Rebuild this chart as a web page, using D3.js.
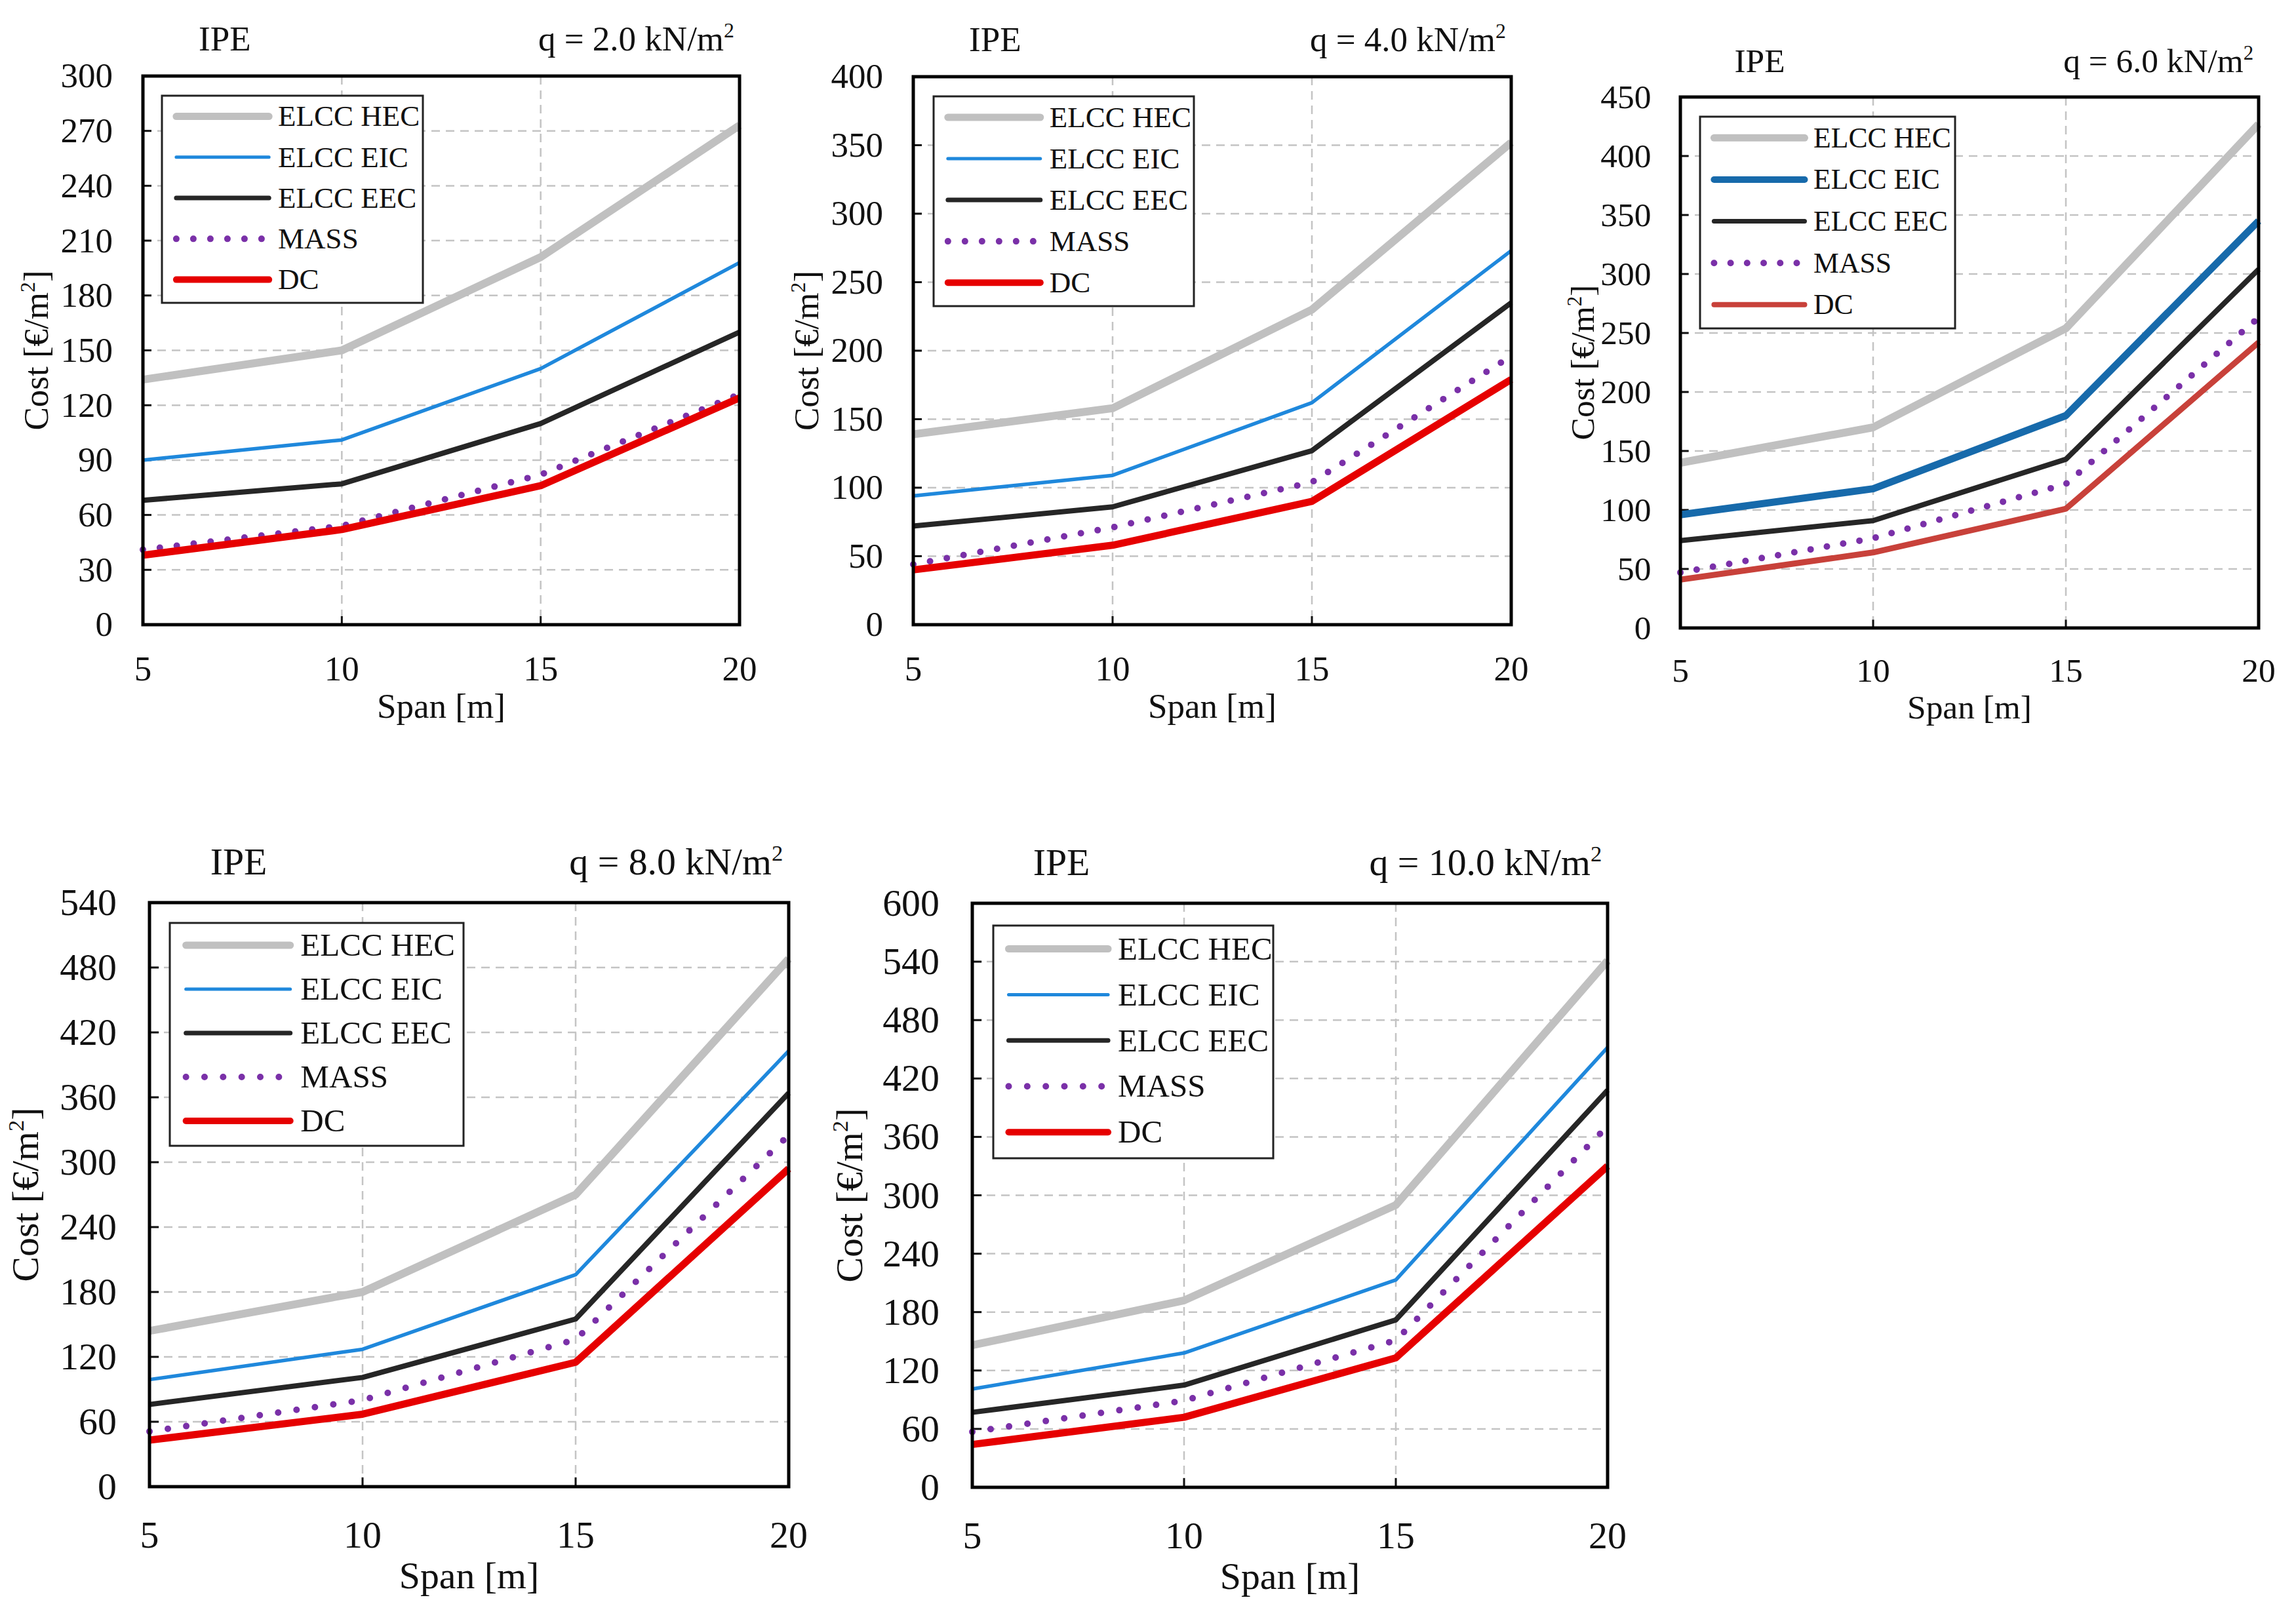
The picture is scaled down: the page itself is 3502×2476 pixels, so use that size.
<!DOCTYPE html>
<html>
<head>
<meta charset="utf-8">
<script src="https://cdn.jsdelivr.net/npm/d3@7"></script>
<style>
  body { margin: 0; background: #fff; }
  svg { display: block; background: #fff; }
  text { font-family: "Liberation Serif", "Times New Roman", serif; fill: #111; }
</style>
</head>
<body>
<svg id="chart"></svg>
<script>
// ---- data ----
const spans = [5, 10, 15, 20];
const loads = ["2.0", "4.0", "6.0", "8.0", "10.0"];
const yMax = [300, 400, 450, 540, 600];
const yStep = [30, 50, 50, 60, 60];
const seriesNames = ["ELCC HEC", "ELCC EIC", "ELCC EEC", "MASS", "DC"];

// one row per panel (q = 2, 4, 6, 8, 10 kN/m2), values at spans 5/10/15/20
const elccHEC = [
  [134, 150, 201, 273],
  [139, 158, 230, 352],
  [140, 170, 254, 427],
  [144, 180, 270, 488],
  [146, 192, 290, 541]
];
const elccEIC = [
  [90, 101, 140, 198],
  [94, 109, 162, 273],
  [96, 118, 180, 345],
  [99, 127, 196, 403],
  [101, 138, 213, 452]
];
const elccEEC = [
  [68, 77, 110, 160],
  [72, 86, 127, 235],
  [74, 91, 143, 304],
  [76, 101, 155, 364],
  [77, 105, 172, 408]
];
const mass = [
  [41, 54, 82, 126],
  [44, 71, 104, 196],
  [47, 76, 122, 263],
  [51, 80, 136, 325],
  [57, 89, 151, 371]
];
const dc = [
  [38, 52, 76, 124],
  [40, 58, 90, 179],
  [41, 64, 101, 242],
  [43, 67, 115, 294],
  [44, 72, 133, 330]
];
const allSeries = [elccHEC, elccEIC, elccEEC, mass, dc];

// ---- layout & styles ----
const W = 3502, H = 2476;
const panels = [
  { x: 218,  y: 116,  w: 910, h: 837, k: 1.0,  leg: [247, 146, 398, 316],  tdx: 145 },
  { x: 1393, y: 117,  w: 912, h: 836, k: 1.0,  leg: [1424, 147, 397, 320], tdx: 145 },
  { x: 2563, y: 148,  w: 882, h: 810, k: 0.97, leg: [2593, 178, 389, 323], tdx: 136 },
  { x: 228,  y: 1377, w: 975, h: 891, k: 1.09, leg: [259, 1408, 448, 340], tdx: 156 },
  { x: 1483, y: 1378, w: 969, h: 891, k: 1.09, leg: [1515, 1412, 427, 355], tdx: 154 }
];
const baseStyles = [
  { color: "#c0c0c0", width: 12 },
  { color: "#1f88dc", width: 5.5 },
  { color: "#262626", width: 8 },
  { color: "#7a30a8", width: 10, dots: true },
  { color: "#e60000", width: 11 }
];
// the 6.0 kN/m2 panel uses different EIC / DC styling
const panel3Styles = { 1: { color: "#176aab", width: 11 }, 4: { color: "#c8413a", width: 9 } };

const svg = d3.select("#chart").attr("width", W).attr("height", H)
  .attr("viewBox", [0, 0, W, H]);

function withSup(sel, before, sup, after, F) {
  sel.append("tspan").text(before);
  sel.append("tspan").attr("dy", -0.38 * F).attr("font-size", 0.6 * F).text(sup);
  if (after) sel.append("tspan").attr("dy", 0.38 * F).text(after);
}

panels.forEach((p, i) => {
  const k = p.k;
  const F = 53 * k;
  const g = svg.append("g");

  const x = d3.scaleLinear().domain([5, 20]).range([p.x, p.x + p.w]);
  const y = d3.scaleLinear().domain([0, yMax[i]]).range([p.y + p.h, p.y]);
  const yTicks = d3.range(0, yMax[i] + 1, yStep[i]);

  // grid
  g.selectAll(".hgrid").data(yTicks.filter(v => v > 0 && v < yMax[i])).join("line")
    .attr("x1", p.x).attr("x2", p.x + p.w)
    .attr("y1", d => y(d)).attr("y2", d => y(d))
    .attr("stroke", "#c4c4c4").attr("stroke-width", 2.5).attr("stroke-dasharray", "13 9");
  g.selectAll(".vgrid").data(spans.slice(1, -1)).join("line")
    .attr("x1", d => x(d)).attr("x2", d => x(d))
    .attr("y1", p.y).attr("y2", p.y + p.h)
    .attr("stroke", "#c4c4c4").attr("stroke-width", 2.5).attr("stroke-dasharray", "13 9");

  // inward tick marks
  g.selectAll(".ytick").data(yTicks).join("line")
    .attr("x1", p.x).attr("x2", p.x + 13 * k)
    .attr("y1", d => y(d)).attr("y2", d => y(d))
    .attr("stroke", "#111").attr("stroke-width", 3);
  g.selectAll(".xtick").data(spans).join("line")
    .attr("x1", d => x(d)).attr("x2", d => x(d))
    .attr("y1", p.y + p.h).attr("y2", p.y + p.h - 13 * k)
    .attr("stroke", "#111").attr("stroke-width", 3);

  // tick labels
  g.selectAll(".ylab").data(yTicks).join("text")
    .attr("x", p.x - 46 * k).attr("y", d => y(d) + 0.33 * F)
    .attr("text-anchor", "end").attr("font-size", F)
    .text(d => d);
  g.selectAll(".xlab").data(spans).join("text")
    .attr("x", d => x(d)).attr("y", p.y + p.h + 85 * k)
    .attr("text-anchor", "middle").attr("font-size", F)
    .text(d => d);

  // series
  const styles = baseStyles.map((s, j) => (i === 2 && panel3Styles[j]) ? Object.assign({}, s, panel3Styles[j]) : s);
  const line = d3.line().x((d, j) => x(spans[j])).y(d => y(d));
  allSeries.forEach((ser, j) => {
    const s = styles[j];
    g.append("path")
      .attr("d", line(ser[i]))
      .attr("fill", "none")
      .attr("stroke", s.color)
      .attr("stroke-width", s.width)
      .attr("stroke-linejoin", "round")
      .attr("stroke-linecap", s.dots ? "round" : "butt")
      .attr("stroke-dasharray", s.dots ? `0 ${26 * k}` : null);
  });

  // frame
  g.append("rect").attr("x", p.x).attr("y", p.y).attr("width", p.w).attr("height", p.h)
    .attr("fill", "none").attr("stroke", "#000").attr("stroke-width", 5);

  // legend
  const [lx, ly, lw, lh] = p.leg;
  const lg = g.append("g");
  lg.append("rect").attr("x", lx).attr("y", ly).attr("width", lw).attr("height", lh)
    .attr("fill", "#fff").attr("stroke", "#222").attr("stroke-width", 3);
  const LF = 45 * k;
  seriesNames.forEach((name, j) => {
    const s = styles[j];
    const ry = ly + lh * 0.1 + j * lh * 0.197;
    lg.append("line")
      .attr("x1", lx + lw * 0.055).attr("x2", lx + lw * 0.41)
      .attr("y1", ry).attr("y2", ry)
      .attr("stroke", s.color).attr("stroke-width", s.dots ? s.width : Math.max(s.width - 1, 5))
      .attr("stroke-linecap", "round")
      .attr("stroke-dasharray", s.dots ? `0 ${26 * k}` : null);
    lg.append("text")
      .attr("x", lx + lw * 0.445).attr("y", ry + 0.33 * LF)
      .attr("font-size", LF)
      .text(name);
  });

  // titles
  g.append("text").attr("x", p.x + 85 * k).attr("y", p.y - 39 * k)
    .attr("font-size", F).text("IPE");
  const q = g.append("text").attr("x", p.x + p.w - 8 * k).attr("y", p.y - 39 * k)
    .attr("text-anchor", "end").attr("font-size", F);
  withSup(q, `q = ${loads[i]} kN/m`, "2", null, F);

  g.append("text")
    .attr("x", p.x + p.w / 2).attr("y", p.y + p.h + 142 * k)
    .attr("text-anchor", "middle").attr("font-size", F)
    .text("Span [m]");

  const yt = g.append("text")
    .attr("transform", `translate(${p.x - p.tdx * k},${p.y + p.h / 2}) rotate(-90)`)
    .attr("text-anchor", "middle").attr("font-size", F);
  withSup(yt, "Cost [€/m", "2", "]", F);
});
</script>
</body>
</html>
